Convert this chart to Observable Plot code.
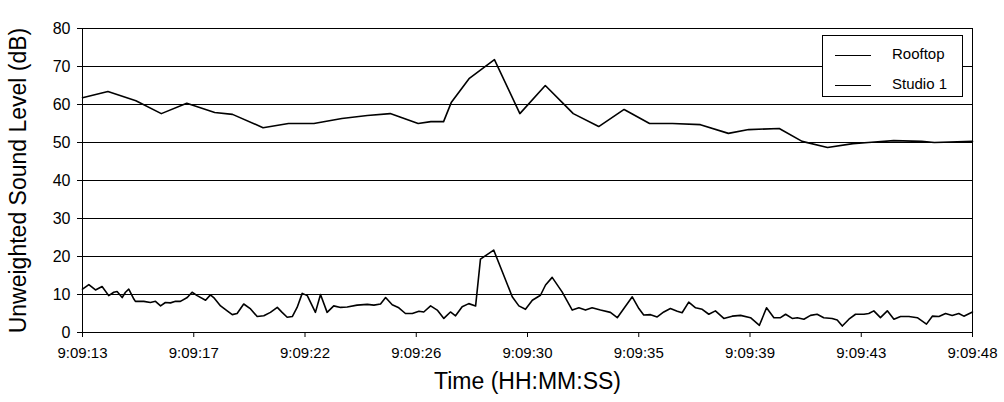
<!DOCTYPE html>
<html><head><meta charset="utf-8">
<script src="https://cdn.jsdelivr.net/npm/d3@7"></script>
<script src="https://cdn.jsdelivr.net/npm/@observablehq/plot@0.6"></script>
<style>
body{margin:0;background:#fff;font-family:"Liberation Sans",Arial,sans-serif;}
#wrap{position:relative;width:1004px;height:402px;}
#legend{position:absolute;left:822px;top:35px;width:139px;height:60px;border:1px solid #000;background:#fff;font-size:15px;color:#000;}
#legend .row{position:absolute;left:12px;height:16px;line-height:16px;white-space:nowrap;}
#legend .sw{display:inline-block;width:36px;height:0;border-top:1.5px solid #000;vertical-align:middle;margin-right:21px;}
</style></head>
<body><div id="wrap"></div>
<script>
// elapsed seconds after 9:09:13
const rooftopTime = [0,1,2.1,3.1,4.1,5.2,5.9,7.1,8.1,9.1,10.2,11.2,12.1,13.2,13.7,14.2,14.5,15.2,16.2,17.2,18.2,18.9,19.3,20.3,21.3,22.3,23.2,24.3,25.4,26.2,27.4,28.3,29.3,30.3,30.9,31.9,33,33.5,35];
const rooftopDb   = [61.8,63.4,61,57.6,60.3,57.9,57.4,53.9,55,55,56.3,57.1,57.6,55,55.5,55.5,60.5,66.8,71.8,57.6,65,60.3,57.6,54.2,58.7,55,55,54.7,52.4,53.4,53.7,50.3,48.7,49.7,50,50.5,50.3,50,50.3];

const studioTime = [0,0.25,0.51,0.77,1.03,1.23,1.36,1.56,1.69,1.82,2.02,2.08,2.41,2.67,2.87,3.07,3.26,3.46,3.66,3.85,4.12,4.31,4.51,4.84,5.03,5.16,5.43,5.69,5.89,6.08,6.34,6.61,6.87,7.13,7.39,7.66,7.85,8.05,8.25,8.44,8.64,8.84,9.16,9.36,9.62,9.88,10.15,10.41,10.8,11.2,11.46,11.72,11.92,12.18,12.44,12.7,12.97,13.23,13.42,13.69,13.95,14.21,14.47,14.67,14.93,15.19,15.46,15.65,15.91,16.17,16.51,16.9,17.16,17.42,17.69,18.01,18.21,18.47,18.86,19.26,19.52,19.78,20.04,20.37,20.76,21.03,21.29,21.62,21.88,22.07,22.34,22.6,22.86,23.12,23.39,23.58,23.84,24.11,24.37,24.63,24.89,25.22,25.55,25.88,26.27,26.62,26.9,27.19,27.45,27.65,27.91,28.11,28.37,28.63,28.89,29.15,29.48,29.68,29.88,30.14,30.4,30.73,30.92,31.12,31.38,31.65,31.91,32.17,32.5,32.83,33.19,33.42,33.68,33.94,34.2,34.46,34.66,35];
const studioDb   = [11.4,12.6,11.2,12.1,9.7,10.6,10.8,9.2,10.6,11.4,8.8,8.2,8.2,7.9,8.2,7,7.9,7.8,8.2,8.2,9.2,10.6,9.7,8.5,9.9,9.2,7,5.7,4.7,5,7.5,6.2,4.2,4.4,5.3,6.6,5.3,4,4.2,6.6,10.3,9.7,5.3,10,5.3,7,6.6,6.7,7.2,7.4,7.2,7.5,9.2,7.3,6.5,5,5,5.6,5.4,7,5.9,3.7,5.4,4.4,6.8,7.6,7,19.3,20.5,21.7,16,9.4,7,6.1,8.5,9.8,12.5,14.5,10.7,5.9,6.5,5.9,6.5,5.9,5.3,3.9,6.3,9.4,6.3,4.6,4.7,4.1,5.4,6.3,5.6,5.2,8,6.5,6.1,4.8,5.7,3.7,4.3,4.5,3.9,1.9,6.5,3.9,3.9,4.8,3.7,3.9,3.5,4.5,4.8,3.9,3.7,3.3,1.7,3.5,4.8,4.8,5,5.7,3.9,5.7,3.5,4.2,4.2,3.9,2.2,4.3,4.2,5,4.5,5,4.3,5.4];

const xTickLabels = ["9:09:13","9:09:17","9:09:22","9:09:26","9:09:30","9:09:35","9:09:39","9:09:43","9:09:48"];
const yTicks = [0,10,20,30,40,50,60,70,80];
const seriesNames = ["Rooftop","Studio 1"];
const yTitle = "Unweighted Sound Level (dB)";
const xTitle = "Time (HH:MM:SS)";

const xTicks = xTickLabels.map((_, i) => i * 35 / (xTickLabels.length - 1));
const rooftop = rooftopTime.map((t, i) => ({t, v: rooftopDb[i]}));
const studio = studioTime.map((t, i) => ({t, v: studioDb[i]}));

const chart = Plot.plot({
  width: 1004, height: 402,
  marginLeft: 82, marginRight: 32, marginTop: 28, marginBottom: 70,
  style: {fontFamily: "Liberation Sans, Arial, sans-serif", background: "#fff", color: "#000"},
  x: {domain: [0, 35]},
  y: {domain: [0, 80]},
  marks: [
    Plot.gridY(yTicks, {stroke: "#000", strokeOpacity: 1, strokeWidth: 1}),
    Plot.frame({stroke: "#000", strokeWidth: 1}),
    Plot.axisY({ticks: yTicks, tickSize: 5, tickPadding: 7, fontSize: 16, label: null}),
    Plot.axisX({ticks: xTicks, tickFormat: (d, i) => xTickLabels[i], tickSize: 5, tickPadding: 10, fontSize: 15, label: null}),
    Plot.line(rooftop, {x: "t", y: "v", stroke: "#000", strokeWidth: 1.6}),
    Plot.line(studio, {x: "t", y: "v", stroke: "#000", strokeWidth: 1.6}),
    Plot.text([yTitle], {text: d => d, frameAnchor: "left", textAnchor: "middle", rotate: -90, dx: -64, fontSize: 23}),
    Plot.text([xTitle], {text: d => d, frameAnchor: "bottom", dy: 56, fontSize: 23})
  ]
});
const wrap = document.getElementById("wrap");
wrap.appendChild(chart);
const legend = document.createElement("div");
legend.id = "legend";
seriesNames.forEach((name, i) => {
  const row = document.createElement("div");
  row.className = "row";
  row.style.top = (10 + i * 30) + "px";
  row.innerHTML = '<span class="sw"></span>' + name;
  legend.appendChild(row);
});
wrap.appendChild(legend);
</script>
</body></html>
